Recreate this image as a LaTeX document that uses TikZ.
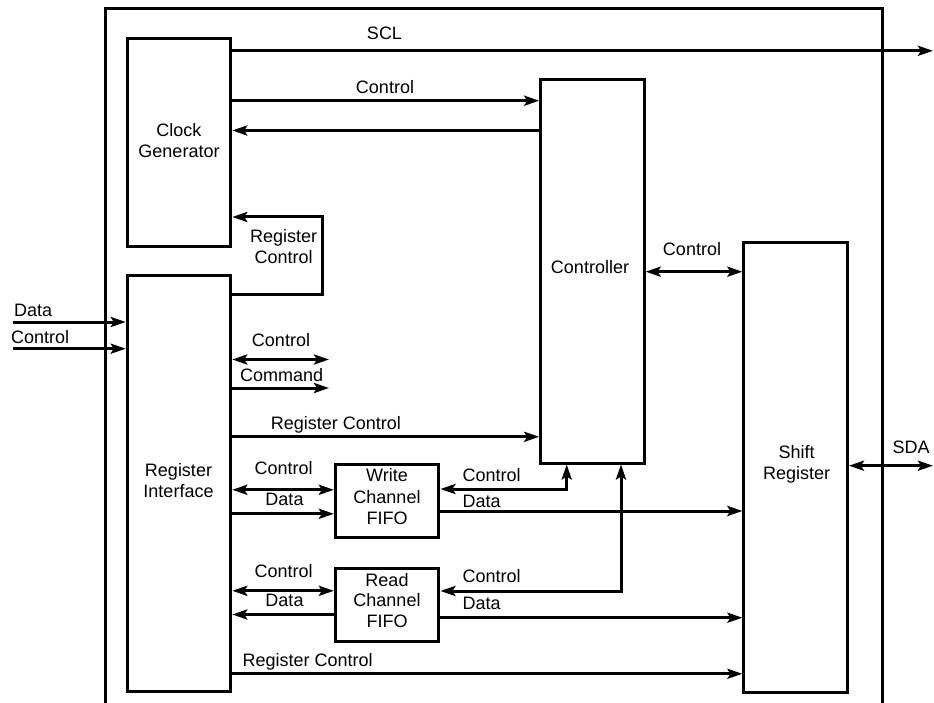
\documentclass[tikz,border=0pt]{standalone}
\usepackage{fontspec}
\setmainfont{Liberation Sans}
\usetikzlibrary{arrows.meta}
\begin{document}
\begin{tikzpicture}[x=1pt,y=-1pt,
  font=\fontsize{18}{21}\selectfont,
  box/.style={draw, line width=3pt, inner sep=0pt, minimum width=103.5pt},
  lbl/.style={inner sep=0pt, anchor=base, align=center},
  lblw/.style={inner sep=0pt, anchor=base west},
  wire/.style={line width=3pt, line join=miter},
  arr/.style={wire, -{Stealth[length=15pt,width=10pt,inset=3pt]}},
  darr/.style={wire, {Stealth[length=15pt,width=10pt,inset=3pt]}-{Stealth[length=15pt,width=10pt,inset=3pt]}},
  frame/.style={line width=2.7pt}
]
\useasboundingbox (0,0) rectangle (934,703);
% outer frame
\draw[frame] (105.3,703) -- (105.3,8.7) -- (882.5,8.7) -- (882.5,703);

% blocks
\node[box, minimum height=208.5pt] (clk) at (179,142.75) {};
\node[box, minimum height=416.2pt] (regif) at (179,483.4) {};
\node[box, minimum height=383pt] (ctrl) at (592.45,271.5) {};
\node[box, minimum height=449.3pt] (shift) at (795.65,467.65) {};
\node[box, minimum height=72.6pt] (wfifo) at (387.15,501) {};
\node[box, minimum height=73.3pt] (rfifo) at (387.15,604.65) {};

% block texts
\node[lbl] (clkt1) at (179,136.3) {Clock};
\node[lbl] (clkt2) at (179,157.3) {Generator};
\node[lbl] (regt1) at (178.5,476) {Register};
\node[lbl] (regt2) at (178.5,497.3) {Interface};
\node[lbl] (ctrlt) at (590,274) {Controller};
\node[lbl] (shiftt1) at (796.7,458.3) {Shift};
\node[lbl] (shiftt2) at (796.7,479) {Register};
\node[lbl] (wft1) at (387,481.7) {Write};
\node[lbl] (wft2) at (387,503) {Channel};
\node[lbl] (wft3) at (387,524) {FIFO};
\node[lbl] (rft1) at (387,586) {Read};
\node[lbl] (rft2) at (387,606.7) {Channel};
\node[lbl] (rft3) at (387,627.3) {FIFO};

% free ends
\coordinate (sclout) at (933,50.8);
\coordinate (sdaout) at (933,465.7);
\coordinate (datain) at (12.7,322);
\coordinate (ctlin) at (12.7,348.7);
\coordinate (ctlend) at (329,359.5);
\coordinate (cmdend) at (329,388);
\coordinate (loopc) at (322,217);

% connectors
\draw[arr] (clk.east |- sclout) -- (sclout);
\draw[arr] (clk.east |- 0,100.7) -- (ctrl.west |- 0,100.7);
\draw[arr] (ctrl.west |- 0,130.5) -- (clk.east |- 0,130.5);
\draw[arr] (regif.east |- 0,295) -| (loopc) -- (clk.east |- loopc);
\draw[arr] (datain) -- (regif.west |- datain);
\draw[arr] (ctlin) -- (regif.west |- ctlin);
\draw[darr] (regif.east |- ctlend) -- (ctlend);
\draw[arr] (regif.east |- cmdend) -- (cmdend);
\draw[arr] (regif.east |- 0,436.8) -- (ctrl.west |- 0,436.8);
\draw[darr] (regif.east |- 0,489.8) -- (wfifo.west |- 0,489.8);
\draw[arr] (regif.east |- 0,513.8) -- (wfifo.west |- 0,513.8);
\draw[darr] (regif.east |- 0,590.8) -- (rfifo.west |- 0,590.8);
\draw[arr] (rfifo.west |- 0,614.5) -- (regif.east |- 0,614.5);
\draw[arr] (regif.east |- 0,673.8) -- (shift.west |- 0,673.8);
\draw[darr] (wfifo.east |- 0,489) -| (566.7,0 |- ctrl.south);
\draw[arr] (wfifo.east |- 0,511) -- (shift.west |- 0,511);
\draw[darr] (rfifo.east |- 0,591) -| (621,0 |- ctrl.south);
\draw[arr] (rfifo.east |- 0,617.7) -- (shift.west |- 0,617.7);
\draw[darr] (ctrl.east |- 0,271.7) -- (shift.west |- 0,271.7);
\draw[darr] (shift.east |- sdaout) -- (sdaout);

% connector labels
\node[lbl] (lscl) at (384.5,39.3) {SCL};
\node[lbl] (lctl1) at (385,93.3) {Control};
\node[lbl] (lrc1a) at (283.7,242.7) {Register};
\node[lbl] (lrc1b) at (283.7,264) {Control};
\node[lblw] (ldatain) at (14,316.7) {Data};
\node[lblw] (lctlin) at (11,343.3) {Control};
\node[lbl] (lctl2) at (281,346) {Control};
\node[lbl] (lcmd) at (281.7,381) {Command};
\node[lbl] (lrc2) at (335.8,429.3) {Register Control};
\node[lbl] (lctl3) at (283.7,474) {Control};
\node[lbl] (ldat3) at (284.5,505.7) {Data};
\node[lbl] (lctl4) at (283.7,577.7) {Control};
\node[lbl] (ldat4) at (284.5,606.7) {Data};
\node[lbl] (lrc3) at (307.7,666) {Register Control};
\node[lbl] (lctl5) at (692,256) {Control};
\node[lbl] (lsda) at (911,453.3) {SDA};
\node[lblw] (lctl6) at (462.3,481.7) {Control};
\node[lblw] (ldat6) at (462.3,507.7) {Data};
\node[lblw] (lctl7) at (462.3,582.7) {Control};
\node[lblw] (ldat7) at (462.3,609.3) {Data};
\end{tikzpicture}
\end{document}
